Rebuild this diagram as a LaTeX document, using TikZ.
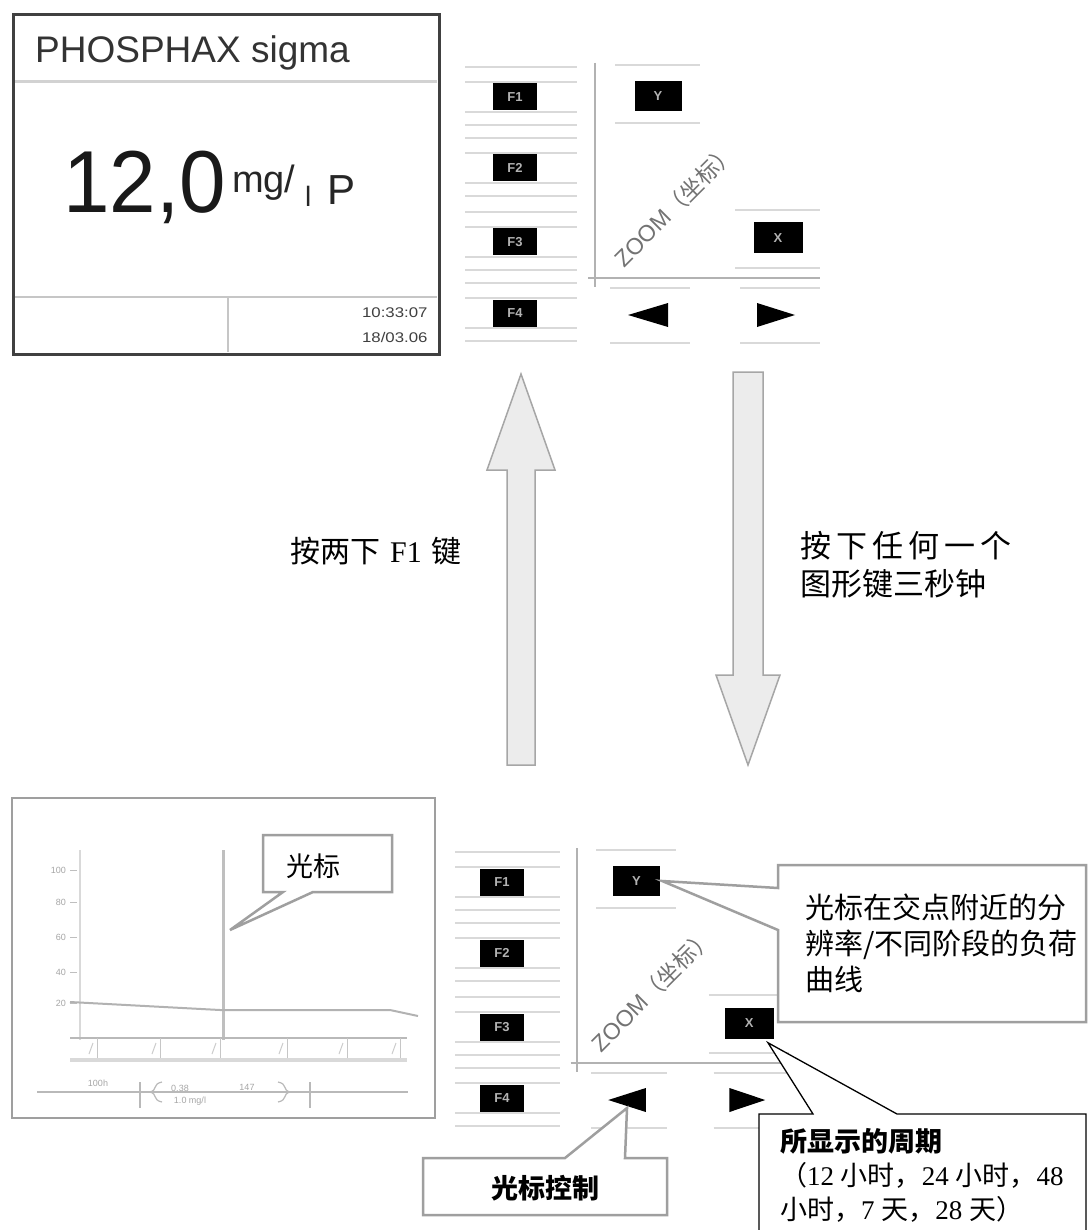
\documentclass[tikz,border=0pt]{standalone}
\usepackage{fontspec}
\setmainfont{Liberation Serif}
\setsansfont{Liberation Sans}
\newfontfamily\cjk{Noto Sans CJK SC}
\newcommand\keypadbody{%
  \foreach \ky in {0,71,145,216} {
    \draw[kline] (-50,\ky-30) -- (62,\ky-30);
    \draw[kline] (-50,\ky-15) -- (62,\ky-15);
    \draw[kline] (-50,\ky+15) -- (62,\ky+15);
    \draw[kline] (-50,\ky+28) -- (62,\ky+28);
  }
  \node[key] (F1) at (0,0) {F1};
  \node[key] (F2) at (0,71) {F2};
  \node[key] (F3) at (0,145) {F3};
  \node[key] (F4) at (0,216) {F4};
  \draw[kline] (100,-32) -- (185,-32);
  \draw[kline] (100,26) -- (185,26);
  \draw[kline] (220,113) -- (305,113);
  \draw[kline] (220,171) -- (305,171);
  \draw[kline] (95,191) -- (175,191);
  \draw[kline] (95,246) -- (175,246);
  \draw[kline] (225,191) -- (305,191);
  \draw[kline] (225,246) -- (305,246);
  \draw[axisline] (80,-34) -- (80,190);
  \draw[axisline] (73,181) -- (305,181);
  \node[key, minimum width=47pt, minimum height=30pt] (Y) at (143,-1) {Y};
  \node[key, minimum width=49pt, minimum height=31pt] (X) at (263,141) {X};
  \coordinate (L) at (133,218);
  \coordinate (R) at (261,218);
  \fill[black] (L) ++(-20,0) -- ++(40,-12) -- ++(0,24) -- cycle;
  \fill[black] (R) ++(19,0) -- ++(-38,-12) -- ++(0,24) -- cycle;
  \node[rotate=45, text=black!55, inner sep=0pt, font=\sffamily\fontsize{23}{23}\selectfont] (zoomlbl) at (160,108) {ZOOM{\cjk （坐标）}};
}
\begin{document}
\begin{tikzpicture}[x=1pt,y=-1pt,
  key/.style={fill=black, minimum width=44pt, minimum height=27pt, inner sep=0pt, text=gray!60, font=\sffamily\bfseries\fontsize{13}{13}\selectfont},
  kline/.style={gray!30, line width=1.5pt},
  axisline/.style={gray!60, line width=2.5pt},
  arrowfill/.style={fill=gray!15, draw=gray!70, line width=1.5pt, line join=miter},
  callgray/.style={draw=gray!75, line width=2.5pt, fill=white, line join=miter},
  callblack/.style={draw=black, line width=1.3pt, fill=white, line join=miter},
  cjktext/.style={font=\fontsize{27}{37}\selectfont, align=left, inner sep=0pt},
  tiny/.style={font=\sffamily\fontsize{9}{9}\selectfont, text=gray!70, inner sep=0pt}]
\useasboundingbox (0,0) rectangle (1089,1230);
\clip (0,0) rectangle (1089,1230);
\fill[white] (0,0) rectangle (1089,1230);

% ---------- top-left display ----------
\draw[line width=3pt, black!75] (13,15) rectangle (439,354);
\draw[gray!35, line width=3pt] (15,82) -- (437,82);
\node[anchor=base west, inner sep=0pt, text=black!80, font=\sffamily\fontsize{37}{37}\selectfont] (title) at (35,63) {PHOSPHAX sigma};
\node[anchor=base west, inner sep=0pt, text=black!90, font=\sffamily\fontsize{88}{88}\selectfont] (val) at (63,213) {\scalebox{0.95}[1]{12,0}};
\node[anchor=base west, inner sep=0pt, text=black!85, font=\sffamily\fontsize{38}{38}\selectfont] (unit) at (232,193) {mg/};
\node[anchor=base west, inner sep=0pt, text=black!85, font=\sffamily\fontsize{28}{28}\selectfont] (unitl) at (305,207) {l};
\node[anchor=base west, inner sep=0pt, text=black!85, font=\sffamily\fontsize{42}{42}\selectfont] (unitp) at (327,205) {P};
\draw[gray!45, line width=1.5pt] (15,297) -- (437,297);
\draw[gray!45, line width=1.5pt] (228,297) -- (228,352);
\node[anchor=east, align=right, text=black!75, font=\sffamily\fontsize{14}{25}\selectfont] (time) at (431,325) {\scalebox{1.2}[1]{10:33:07}\\\scalebox{1.2}[1]{18/03.06}};

% ---------- keypads ----------
\begin{scope}[shift={(515,97)}, name prefix=t]
  \keypadbody
\end{scope}
\begin{scope}[shift={(502,882)}, xscale=0.94, name prefix=b]
  \keypadbody
\end{scope}

% ---------- block arrows ----------
\draw[arrowfill] (507,765) -- (507,470) -- (487,470) -- (521,374) -- (555,470) -- (535,470) -- (535,765) -- cycle;
\draw[arrowfill] (733,372) -- (763,372) -- (763,675) -- (780,675) -- (748,765) -- (716,675) -- (733,675) -- cycle;
\node[cjktext, anchor=west, font=\fontsize{30}{37}\selectfont] (lblup) at (290,551) {{\cjk 按两下}\hspace{10pt}F1\hspace{10pt}{\cjk 键}};
\node[cjktext, anchor=north west, font=\fontsize{31}{38}\selectfont] (lbldown) at (800,531) {{\cjk 按\hspace{5pt}下\hspace{5pt}任\hspace{5pt}何\hspace{5pt}一\hspace{5pt}个}\\{\cjk 图形键三秒钟}};

% ---------- bottom-left graph ----------
\draw[gray!75, line width=2.5pt] (12,798) rectangle (435,1118);
\draw[gray!30, line width=2pt] (80,850) -- (80,1040);
\foreach \v/\yy in {100/870,80/902,60/937,40/972,20/1003} {
  \node[tiny, anchor=east] at (66,\yy) {\v};
  \draw[gray!50, line width=1pt] (70,\yy) -- (77,\yy);
}
\draw[gray!50, line width=3pt] (223,850) -- (223,1040);
\draw[gray!60, line width=2pt] (70,1002) -- (220,1010) -- (390,1010) -- (418,1016);
\draw[gray!55, line width=2pt] (70,1038) -- (407,1038);
\draw[gray!30, line width=4pt] (70,1060) -- (407,1060);
\foreach \xx in {97,160,220,287,347,400} {
  \draw[gray!45, line width=1pt] (\xx,1038) -- (\xx,1058);
  \draw[gray!40, line width=1pt] (\xx-8,1054) -- (\xx-4,1043);
}
\draw[gray!55, line width=1.5pt] (37,1092) -- (408,1092);
\draw[gray!55, line width=1.2pt] (140,1082) -- (140,1108);
\draw[gray!55, line width=1.2pt] (310,1082) -- (310,1108);
\draw[gray!55, line width=1.2pt] (162,1082) .. controls (152,1084) and (158,1090) .. (150,1092) .. controls (158,1094) and (152,1100) .. (162,1102);
\draw[gray!55, line width=1.2pt] (278,1082) .. controls (288,1084) and (282,1090) .. (290,1092) .. controls (282,1094) and (288,1100) .. (278,1102);
\node[tiny] (t100) at (98,1083) {100h};
\node[tiny] (t038) at (180,1088) {0.38};
\node[tiny] (t10) at (190,1101) {1.0 mg/l};
\node[tiny] (t147) at (247,1087) {147};
\coordinate (cur) at (230,930);
\draw[callgray] (263,835) -- (392,835) -- (392,892) -- (313,892) -- (cur) -- (283,892) -- (263,892) -- cycle;
\node[cjktext] (curlbl) at (313,866) {\cjk 光标};

% ---------- callouts bottom-right ----------
\coordinate (ptY) at ([xshift=2pt]bY.east);
\draw[callgray] (778,865) -- (1086,865) -- (1086,1022) -- (778,1022) -- (778,930) -- (ptY) -- (778,888) -- cycle;
\node[cjktext, anchor=north west, font=\fontsize{29}{36}\selectfont] (reslbl) at (805,894) {\cjk 光标在交点附近的分\\\cjk 辨率/不同阶段的负荷\\\cjk 曲线};

\coordinate (ptX) at ([xshift=-6pt,yshift=-4pt]bX.south east);
\draw[callblack] (759,1114) -- (813,1114) -- (ptX) -- (897,1114) -- (1086,1114) -- (1086,1240) -- (759,1240) -- cycle;
\node[cjktext, anchor=north west, font=\fontsize{27}{34}\selectfont] (perlbl) at (780,1128) {{\cjk\bfseries 所显示的周期}\\{\cjk （}12 {\cjk 小时，}24 {\cjk 小时，}48\\{\cjk 小时，}7 {\cjk 天，}28 {\cjk 天）}};

\coordinate (ptL) at ([yshift=-8pt]bL);
\draw[callgray] (423,1158) -- (565,1158) -- (ptL) -- (625,1158) -- (667,1158) -- (667,1215) -- (423,1215) -- cycle;
\node[cjktext] (ctrllbl) at (545,1188) {\cjk\bfseries 光标控制};
\end{tikzpicture}
\end{document}
